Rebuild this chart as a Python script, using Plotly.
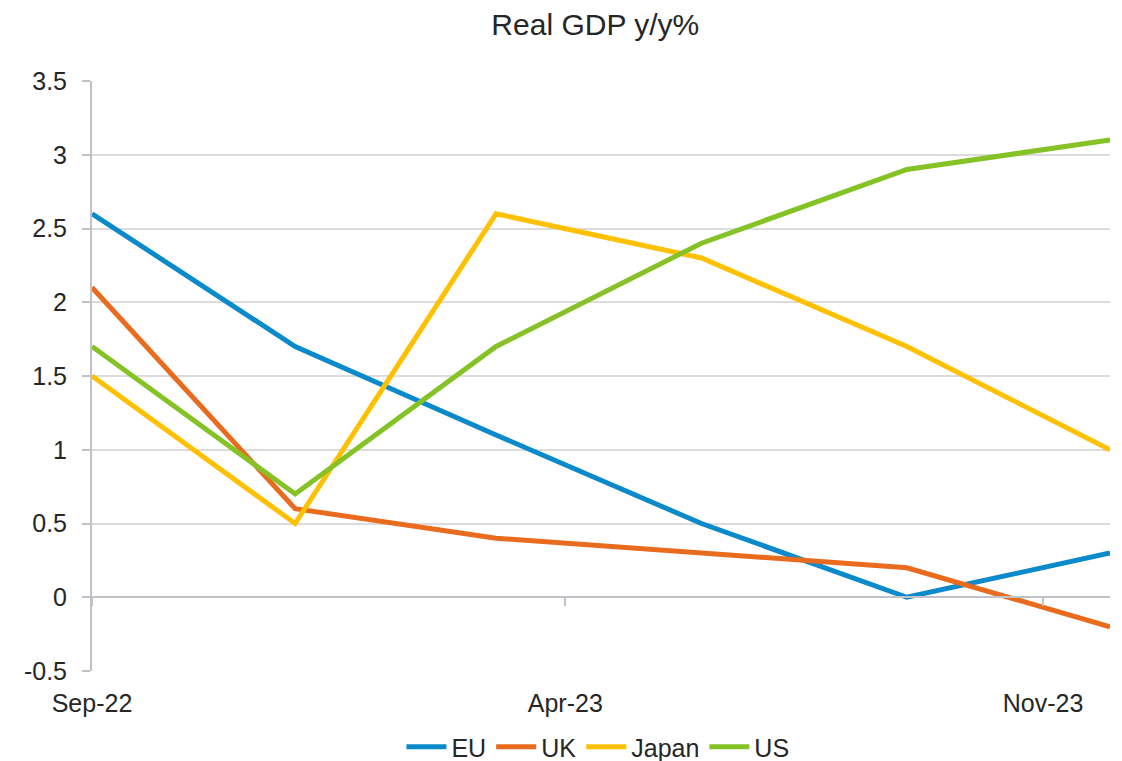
import plotly.graph_objects as go

dates = ["2022-09-01", "2022-12-01", "2023-03-01", "2023-06-01", "2023-09-01", "2023-12-01"]
eu = [2.6, 1.7, 1.1, 0.5, 0.0, 0.3]
uk = [2.1, 0.6, 0.4, 0.3, 0.2, -0.2]
japan = [1.5, 0.5, 2.6, 2.3, 1.7, 1.0]
us = [1.7, 0.7, 1.7, 2.4, 2.9, 3.1]

series_names = ["EU", "UK", "Japan", "US"]
series_vals = [eu, uk, japan, us]
colors = ["#0A8ACB", "#E96B1E", "#FFC000", "#84C225"]

x_tickvals = ["2022-09-01", "2023-04-01", "2023-11-01"]
x_ticktext = ["Sep-22", "Apr-23", "Nov-23"]
y_ticks = [-0.5, 0, 0.5, 1, 1.5, 2, 2.5, 3, 3.5]
y_ticktext = ["-0.5", "0", "0.5", "1", "1.5", "2", "2.5", "3", "3.5"]

fig = go.Figure()
for name, vals, c in zip(series_names, series_vals, colors):
    fig.add_trace(go.Scatter(x=dates, y=vals, name=name, mode="lines",
                             line=dict(color=c, width=5)))

# invisible trace so the zero-line axis (with its tick marks) is drawn
fig.add_trace(go.Scatter(x=dates, y=eu, xaxis="x2", mode="lines",
                         line=dict(width=0), opacity=0, showlegend=False,
                         hoverinfo="skip"))

font = "Liberation Sans, Arial, sans-serif"
txt = "#262626"
# the page body adds an 8px offset
fig.update_layout(
    width=1106, height=753,
    margin=dict(l=84, r=4, t=73, b=90, autoexpand=False),
    paper_bgcolor="white", plot_bgcolor="white",
    font=dict(family=font, size=25, color=txt),
    title=dict(text="Real GDP y/y%", x=0.531, xanchor="center", y=1 - 16 / 753, yanchor="middle",
               font=dict(family=font, size=30, color=txt)),
    showlegend=True,
    legend=dict(orientation="h", x=0.497, xanchor="center", y=-0.129, yanchor="middle",
                font=dict(family=font, size=25, color=txt),
                itemwidth=40, traceorder="normal"),
    xaxis=dict(type="date", range=[dates[0], dates[-1]], tickvals=x_tickvals,
               ticktext=x_ticktext, showgrid=False, zeroline=False, showline=False,
               ticks="", ticklabelstandoff=15, automargin=False,
               tickfont=dict(family=font, size=25, color=txt)),
    xaxis2=dict(type="date", range=[dates[0], dates[-1]], overlaying="x", anchor="free",
                position=0.125, tickvals=x_tickvals, showticklabels=False,
                showgrid=False, zeroline=False, showline=True, linecolor="#BFC3C8",
                linewidth=2, ticks="outside", ticklen=8, tickcolor="#BFC3C8", tickwidth=1.5,
                automargin=False),
    yaxis=dict(range=[-0.5, 3.5], tickvals=y_ticks, ticktext=y_ticktext,
               showgrid=True, gridcolor="#DCDCDC", gridwidth=1.5, zeroline=False,
               showline=True, linecolor="#BFC3C8", linewidth=2, automargin=False,
               ticks="outside", ticklen=8, tickcolor="#BFC3C8", tickwidth=1.5,
               ticklabelstandoff=10,
               tickfont=dict(family=font, size=25, color=txt)),
)

fig.write_html("out.html")
